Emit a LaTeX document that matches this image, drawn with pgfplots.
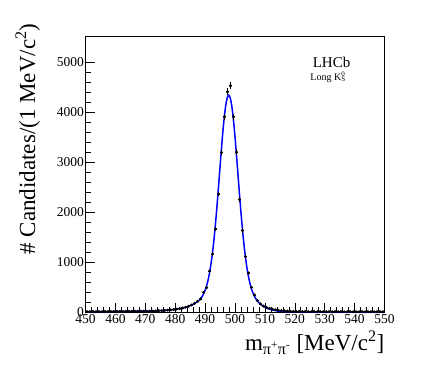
\documentclass[border=0pt]{standalone}
\usepackage{fontspec}
\setmainfont{Liberation Serif}
\usepackage{pgfplots}
\usepackage{pgfplotstable}
\pgfplotsset{compat=1.18}

% binned data: centre, counts, half bin width, stat. error
\pgfplotstableread{
x y ex ey
450.5 8 0.5 2.8
451.5 5 0.5 2.2
452.5 10 0.5 3.2
453.5 6 0.5 2.4
454.5 9 0.5 3.0
455.5 7 0.5 2.6
456.5 12 0.5 3.5
457.5 8 0.5 2.8
458.5 10 0.5 3.2
459.5 9 0.5 3.0
460.5 11 0.5 3.3
461.5 14 0.5 3.7
462.5 10 0.5 3.2
463.5 12 0.5 3.5
464.5 15 0.5 3.9
465.5 13 0.5 3.6
466.5 16 0.5 4.0
467.5 15 0.5 3.9
468.5 17 0.5 4.1
469.5 19 0.5 4.4
470.5 14 0.5 3.7
471.5 16 0.5 4.0
472.5 19 0.5 4.4
473.5 22 0.5 4.7
474.5 25 0.5 5.0
475.5 28 0.5 5.3
476.5 32 0.5 5.7
477.5 37 0.5 6.1
478.5 43 0.5 6.6
479.5 50 0.5 7.1
480.5 58 0.5 7.6
481.5 68 0.5 8.2
482.5 80 0.5 8.9
483.5 96 0.5 9.8
484.5 115 0.5 10.7
485.5 140 0.5 11.8
486.5 172 0.5 13.1
487.5 212 0.5 14.6
488.5 262 0.5 16.2
489.5 392 0.5 19.8
490.5 488 0.5 22.1
491.5 820 0.5 28.6
492.5 1160 0.5 34.1
493.5 1660 0.5 40.7
494.5 2360 0.5 48.6
495.5 3190 0.5 56.5
496.5 3905 0.5 62.5
497.5 4405 0.5 66.4
498.5 4525 0.5 67.3
499.5 3905 0.5 62.5
500.5 3195 0.5 56.5
501.5 2250 0.5 47.4
502.5 1630 0.5 40.4
503.5 1108 0.5 33.3
504.5 780 0.5 27.9
505.5 492 0.5 22.2
506.5 340 0.5 18.4
507.5 228 0.5 15.1
508.5 162 0.5 12.7
509.5 118 0.5 10.9
510.5 92 0.5 9.6
511.5 72 0.5 8.5
512.5 56 0.5 7.5
513.5 45 0.5 6.7
514.5 36 0.5 6.0
515.5 29 0.5 5.4
516.5 24 0.5 4.9
517.5 20 0.5 4.5
518.5 16 0.5 4.0
519.5 13 0.5 3.6
520.5 12 0.5 3.5
521.5 10 0.5 3.2
522.5 9 0.5 3.0
523.5 11 0.5 3.3
524.5 8 0.5 2.8
525.5 7 0.5 2.6
526.5 9 0.5 3.0
527.5 6 0.5 2.4
528.5 8 0.5 2.8
529.5 7 0.5 2.6
530.5 6 0.5 2.4
531.5 8 0.5 2.8
532.5 5 0.5 2.2
533.5 7 0.5 2.6
534.5 6 0.5 2.4
535.5 9 0.5 3.0
536.5 5 0.5 2.2
537.5 6 0.5 2.4
538.5 7 0.5 2.6
539.5 4 0.5 2.0
540.5 6 0.5 2.4
541.5 5 0.5 2.2
542.5 7 0.5 2.6
543.5 4 0.5 2.0
544.5 6 0.5 2.4
545.5 5 0.5 2.2
546.5 4 0.5 2.0
547.5 6 0.5 2.4
548.5 5 0.5 2.2
549.5 4 0.5 2.0
}\datatab

% fitted model
\pgfplotstableread{
x y
450 6
455 8
460 11
465 14
470 18
472 21
474 25
476 31
478 40
480 53
482 73
483 86
484 104
485 127
486 155
487 190
487.9 228
488.4 258
488.9 300
489.4 352
489.9 418
490.4 503
490.9 615
491.4 756
491.9 934
492.4 1152
492.9 1414
493.4 1721
493.9 2064
494.4 2438
494.9 2830
495.4 3217
495.9 3577
496.4 3888
496.9 4130
497.4 4284
497.9 4335
498.4 4283
498.9 4129
499.4 3886
499.9 3574
500.4 3213
500.9 2825
501.4 2432
501.9 2057
502.4 1713
502.9 1405
503.4 1141
503.9 921
504.4 741
504.9 598
505.4 484
505.9 397
506.4 328
506.9 272
507.4 229
507.9 193
508.9 139
509.9 101
510.9 72
511.9 51
512.9 36
513.9 25
515.9 13
517.9 8
522.9 5
550 5
}\fittab

\begin{document}
\begin{tikzpicture}
\path[use as bounding box] (-85.5pt,-56pt) rectangle (341.5pt,312pt);
\begin{axis}[
  scale only axis, width=299pt, height=276pt,
  at={(0,0)}, anchor=south west,
  xmin=450, xmax=550, ymin=0, ymax=5520,
  xtick={450,460,...,550}, minor x tick num=4,
  ytick={0,1000,...,5000}, minor y tick num=4,
  tick pos=left, tick align=inside,
  major tick length=9pt, minor tick length=5pt,
  axis line style={line width=0.8pt},
  every tick/.style={black,line width=0.6pt},
  scaled y ticks=false,
  /pgf/number format/set thousands separator={},
  /pgf/number format/assume math mode=true,
  ticklabel style={font=\fontsize{13.5}{15}\selectfont},
  yticklabel style={inner sep=1.5pt},
  xticklabel style={inner sep=2pt},
  xlabel={m\textsubscript{π\textsuperscript{+}π\textsuperscript{-}} [MeV/c\textsuperscript{2}]},
  ylabel={\# Candidates/(1 MeV/c\textsuperscript{2})},
  label style={font=\fontsize{23}{27}\selectfont},
  xlabel style={at={(axis description cs:1,-0.141)}, anchor=base east, inner sep=0pt},
  ylabel style={at={(axis description cs:-0.193,0.627)}, anchor=center},
]
\addplot[blue, line width=1.5pt, smooth] table[x=x, y=y] {\fittab};
\addplot[black, only marks, mark=*, mark size=1.3pt,
  error bars/.cd, x dir=both, x explicit, y dir=both, y explicit,
  error mark=none, error bar style={line width=0.7pt}]
  table[x=x, y=y, x error=ex, y error=ey] {\datatab};
\node[font=\fontsize{15}{17}\selectfont, anchor=base, inner sep=0pt] at (axis cs:532.3,4900) {LHCb};
\node[font=\fontsize{10}{12}\selectfont, anchor=base, inner sep=0pt] at (axis cs:531.8,4640)
  {Long K\rlap{\textsuperscript{0}}\textsubscript{S}\hphantom{\textsuperscript{0}}};
\end{axis}
\end{tikzpicture}
\end{document}
